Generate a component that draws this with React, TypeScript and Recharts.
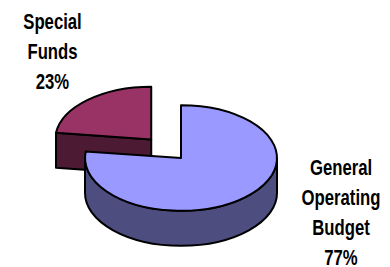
import React from 'react';
import { PieChart, Pie, Cell } from 'recharts';

const categories = ['Special Funds', 'General Operating Budget'];
const shares = [23, 77];
const topColors = ['#993366', '#9999FF'];
const sideColors = ['#4D1A33', '#4D4D80'];
const explodedSlice = 'Special Funds';

const data = categories.map((name, i) => ({ name, value: shares[i] }));

// fake 3D: squash the circle into an ellipse and drop a wall under it
const TILT = 0.55;
const DEPTH = 35;
const EXPLODE = 45;

const rad = (a: number) => (a * Math.PI) / 180;

const Slice3D = (props: any) => {
  const { cx, cy, outerRadius, startAngle, endAngle, midAngle } = props;
  const name = props.name ?? props.payload?.name;
  const i = categories.indexOf(name);
  const rx = outerRadius;
  const ry = outerRadius * TILT;
  const off = name === explodedSlice ? EXPLODE : 0;
  const ox = cx + off * Math.cos(rad(midAngle));
  const oy = cy - off * TILT * Math.sin(rad(midAngle));
  const p = (a: number) => [ox + rx * Math.cos(rad(a)), oy - ry * Math.sin(rad(a))];
  const s = Math.min(startAngle, endAngle);
  const e = Math.max(startAngle, endAngle);
  const large = e - s > 180 ? 1 : 0;
  const [sx, sy] = p(s);
  const [ex, ey] = p(e);
  const top = `M${ox},${oy} L${sx},${sy} A${rx},${ry} 0 ${large} 0 ${ex},${ey} Z`;

  const walls: string[] = [];
  // outer wall, only the front half (180..360) shows
  for (let k = -360; k <= 360; k += 360) {
    const a1 = Math.max(s, 180 + k);
    const a2 = Math.min(e, 360 + k);
    if (a2 > a1) {
      const [x1, y1] = p(a1);
      const [x2, y2] = p(a2);
      walls.push(
        `M${x1},${y1} A${rx},${ry} 0 0 0 ${x2},${y2} L${x2},${y2 + DEPTH} A${rx},${ry} 0 0 1 ${x1},${y1 + DEPTH} Z`
      );
    }
  }
  // radial cut walls that face the viewer
  const radial = (a: number, normal: number) => {
    if (Math.sin(rad(normal)) < -0.01) {
      const [x, y] = p(a);
      walls.push(`M${ox},${oy} L${x},${y} L${x},${y + DEPTH} L${ox},${oy + DEPTH} Z`);
    }
  };
  radial(s, s - 90);
  radial(e, e + 90);

  return (
    <g>
      {walls.map((d, k) => (
        <path key={k} d={d} fill={sideColors[i]} stroke="#000" strokeWidth={2} strokeLinejoin="round" />
      ))}
      <path d={top} fill={topColors[i]} stroke="#000" strokeWidth={2} strokeLinejoin="round" />
    </g>
  );
};

const renderLabel = (props: any) => {
  const { cx, cy, name, percent, index } = props;
  const lines = [...String(name).split(' '), `${Math.round(percent * 100)}%`];
  const pos = index === 0 ? { dx: -128.5, dy: -129 } : { dx: 160, dy: 17 };
  return (
    <text
      transform={`translate(${cx + pos.dx} ${cy + pos.dy}) scale(0.76 1)`}
      x={0}
      y={0}
      textAnchor="middle"
      fill="#000"
      fontFamily="'Liberation Sans', Arial, sans-serif"
      fontWeight="bold"
      fontSize={22}
    >
      {lines.map((l, k) => (
        <tspan key={k} x={0} dy={k === 0 ? 0 : 30}>
          {l}
        </tspan>
      ))}
    </text>
  );
};

export default function App() {
  return (
    <div style={{ position: 'absolute', left: 0, top: 0, width: 390, height: 267, background: '#fff' }}>
      <PieChart width={390} height={267}>
        <Pie
          data={data}
          dataKey="value"
          nameKey="name"
          cx={176}
          cy={153}
          outerRadius={96}
          startAngle={90}
          endAngle={450}
          isAnimationActive={false}
          shape={Slice3D}
          activeShape={Slice3D}
          label={renderLabel}
          labelLine={false}
        >
          {data.map((d, i) => (
            <Cell key={d.name} fill={topColors[i]} />
          ))}
        </Pie>
      </PieChart>
    </div>
  );
}
